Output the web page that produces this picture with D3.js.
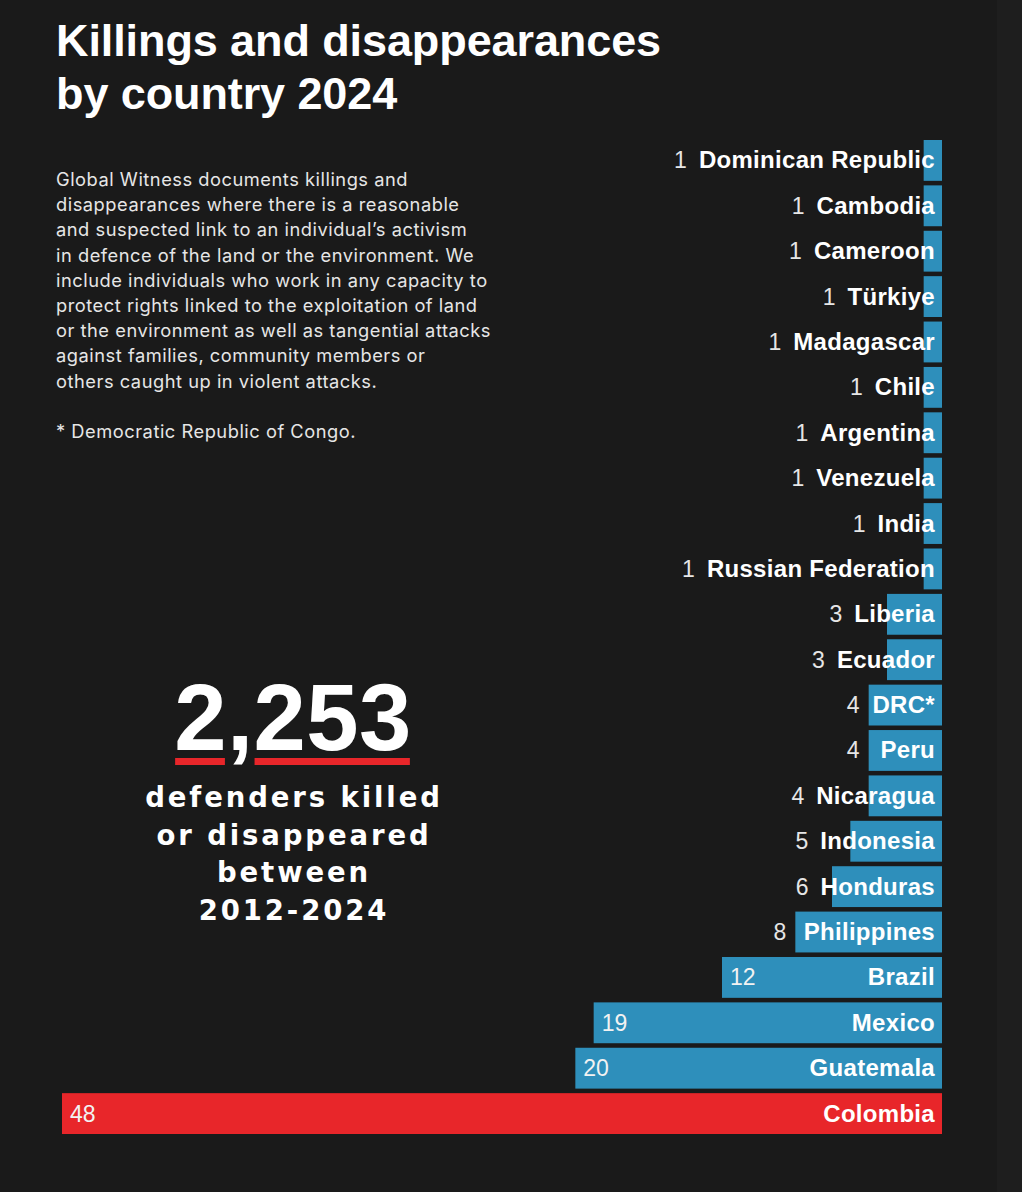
<!DOCTYPE html>
<html>
<head>
<meta charset="utf-8">
<script src="https://cdn.jsdelivr.net/npm/d3@7"></script>
<style>
  html, body { margin: 0; padding: 0; background: #1a1a1a; }
  svg { display: block; }
</style>
</head>
<body>
<svg id="chart" width="1022" height="1192"></svg>
<script>
// ---- Data ----
const categories = ["Dominican Republic","Cambodia","Cameroon","Türkiye","Madagascar","Chile","Argentina","Venezuela","India","Russian Federation","Liberia","Ecuador","DRC*","Peru","Nicaragua","Indonesia","Honduras","Philippines","Brazil","Mexico","Guatemala","Colombia"];
const values = [1,1,1,1,1,1,1,1,1,1,3,3,4,4,4,5,6,8,12,19,20,48];
const highlight = ["Colombia"];
const titleLines = ["Killings and disappearances", "by country 2024"];
const bodyLines = [
  "Global Witness documents killings and",
  "disappearances where there is a reasonable",
  "and suspected link to an individual’s activism",
  "in defence of the land or the environment. We",
  "include individuals who work in any capacity to",
  "protect rights linked to the exploitation of land",
  "or the environment as well as tangential attacks",
  "against families, community members or",
  "others caught up in violent attacks."
];
const footnote = "* Democratic Republic of Congo.";
const bigNumber = "2,253";
const bigLines = ["defenders killed", "or disappeared", "between", "2012-2024"];

// ---- Setup ----
const svg = d3.select("#chart");
const W = 1022, H = 1192;
svg.append("rect").attr("width", W).attr("height", H).attr("fill", "#1a1a1a");
svg.append("rect").attr("x", 997).attr("width", W - 997).attr("height", H).attr("fill", "#1e1e1e");

const BLUE = "#2e8fbb", RED = "#e8262a";

// Title
svg.append("g").selectAll("text").data(titleLines).join("text")
  .attr("x", 56).attr("y", (d, i) => 56 + i * 53)
  .attr("fill", "#ffffff")
  .style("font-family", "'Liberation Sans', Arial, sans-serif")
  .style("font-weight", 700).style("font-size", "45px")
  .style("letter-spacing", "-0.1px")
  .text(d => d);

// Body
const bodyG = svg.append("g")
  .style("font-family", "Inter, sans-serif")
  .style("font-size", "18.3px")
  .attr("fill", "#e6e6e6");
const bodyText = bodyG.selectAll("text").data(bodyLines).join("text")
  .attr("x", 56).attr("y", (d, i) => 186 + i * 25.2)
  .text(d => d);
bodyG.append("text").attr("x", 56).attr("y", 438).text(footnote);
{
  // adjust spacing so the longest line matches the reference measure
  const ref = bodyLines[6];
  const node = bodyText.filter(d => d === ref).node();
  const w = node.getComputedTextLength();
  const ls = (435 - w) / ref.length;
  bodyG.style("letter-spacing", ls + "px");
}

// Big number
const cx = 293;
const big = svg.append("text").attr("x", cx).attr("y", 750)
  .attr("text-anchor", "middle").attr("fill", "#ffffff")
  .style("font-family", "'Liberation Sans', Arial, sans-serif")
  .style("font-weight", 700).style("font-size", "94px")
  .style("letter-spacing", "0.5px")
  .text(bigNumber);
{
  const node = big.node();
  const total = node.getComputedTextLength();
  const x0 = cx - total / 2;
  const commaIdx = bigNumber.indexOf(",");
  const w1 = node.getSubStringLength(0, commaIdx);
  const wComma = node.getSubStringLength(commaIdx, 1);
  const segs = [[x0 + 1, x0 + w1 - 2], [x0 + w1 + wComma + 1, x0 + total - 2]];
  svg.append("g").selectAll("rect").data(segs).join("rect")
    .attr("x", d => d[0]).attr("width", d => d[1] - d[0])
    .attr("y", 758).attr("height", 7).attr("fill", RED);
}
svg.append("g").selectAll("text").data(bigLines).join("text")
  .attr("x", cx + 1).attr("y", (d, i) => 807 + i * 37.5)
  .attr("text-anchor", "middle").attr("fill", "#ffffff")
  .style("font-family", "'DejaVu Sans', sans-serif")
  .style("font-weight", 700).style("font-size", "27.5px")
  .style("letter-spacing", "2.9px")
  .text(d => d);

// ---- Bars ----
const x = d3.scaleLinear().domain([0, 48]).range([942, 62]);
const y = d3.scaleBand().domain(categories).range([140, 1134]).paddingInner(0.1).paddingOuter(0);
const data = categories.map((c, i) => ({ name: c, value: values[i] }));

svg.append("g").selectAll("rect").data(data).join("rect")
  .attr("x", d => x(d.value)).attr("width", d => x(0) - x(d.value))
  .attr("y", d => y(d.name)).attr("height", y.bandwidth())
  .attr("fill", d => highlight.includes(d.name) ? RED : BLUE);

const nameX = 935;
const names = svg.append("g").selectAll("text").data(data).join("text")
  .attr("x", nameX).attr("y", d => y(d.name) + y.bandwidth() / 2 + 8)
  .attr("text-anchor", "end").attr("fill", "#ffffff")
  .style("font-family", "'Liberation Sans', Arial, sans-serif")
  .style("font-weight", 700).style("font-size", "24px")
  .style("letter-spacing", "0.3px")
  .text(d => d.name);

const nameW = {};
names.each(function(d) { nameW[d.name] = this.getComputedTextLength(); });

svg.append("g").selectAll("text").data(data).join("text")
  .each(function(d) {
    const barLeft = x(d.value);
    const barW = x(0) - barLeft;
    const nameLeft = nameX - nameW[d.name];
    const inside = barW > nameW[d.name] + 60;
    const t = d3.select(this)
      .attr("y", y(d.name) + y.bandwidth() / 2 + 8)
      .attr("fill", inside ? "#f2f2f2" : "#e6e6e6");
    if (inside) {
      t.attr("x", barLeft + 8).attr("text-anchor", "start");
    } else {
      t.attr("x", Math.min(barLeft - 9, nameLeft - 12)).attr("text-anchor", "end");
    }
  })
  .style("font-family", "'Liberation Sans', Arial, sans-serif")
  .style("font-size", "23px")
  .text(d => d.value);
</script>
</body>
</html>
